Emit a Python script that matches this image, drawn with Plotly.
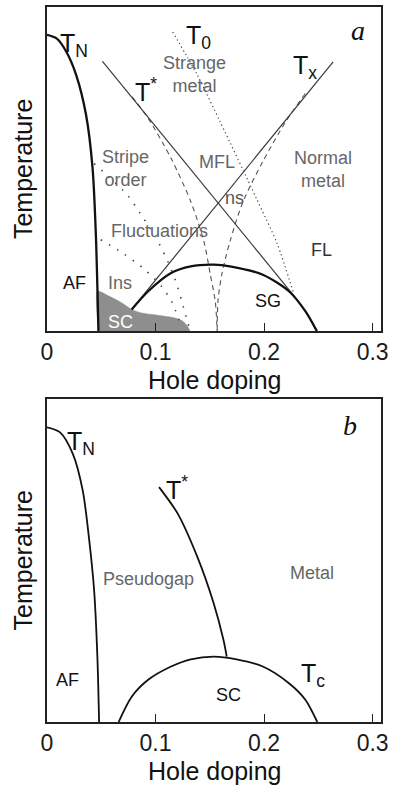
import plotly.graph_objects as go

# ---------------- Panel a data ----------------
tn_a_x = [0.0, 0.0088, 0.0178, 0.0269, 0.036, 0.042, 0.045, 0.0474]
tn_a_y = [0.914, 0.903, 0.862, 0.790, 0.667, 0.502, 0.298, 0.0]

tstar_a_x = [0.0511, 0.229]
tstar_a_y = [0.8325, 0.1026]

tx_a_x = [0.078, 0.2636]
tx_a_y = [0.0667, 0.831]

t0_a_x = [0.1158, 0.1385, 0.1595, 0.1928, 0.2120, 0.2275]
t0_a_y = [0.923, 0.790, 0.646, 0.410, 0.270, 0.113]

dashL_x = [0.0784, 0.0933, 0.1143, 0.1324, 0.1445, 0.1505, 0.155, 0.1568]
dashL_y = [0.723, 0.656, 0.533, 0.400, 0.277, 0.174, 0.092, 0.0]
dashR_x = [0.238, 0.2199, 0.1988, 0.1807, 0.1686, 0.161, 0.1575, 0.1568]
dashR_y = [0.733, 0.646, 0.523, 0.400, 0.277, 0.174, 0.092, 0.0]

sg_x = [0.078, 0.0932, 0.1143, 0.1324, 0.1535, 0.1686, 0.1988, 0.2229, 0.238, 0.2486]
sg_y = [0.0667, 0.123, 0.1795, 0.200, 0.205, 0.200, 0.174, 0.123, 0.0615, 0.0]

sc_a_x = [0.0474, 0.0465, 0.057, 0.069, 0.078, 0.0872, 0.1023, 0.1174, 0.1249, 0.1294, 0.1318]
sc_a_y = [0.0, 0.123, 0.108, 0.087, 0.067, 0.056, 0.049, 0.041, 0.031, 0.015, 0.0]

stripe1_x = [0.0434, 0.074, 0.0857, 0.100, 0.1113, 0.120, 0.126, 0.131]
stripe1_y = [0.517, 0.420, 0.364, 0.290, 0.215, 0.140, 0.070, 0.010]
stripe2_x = [0.0495, 0.070, 0.090, 0.105, 0.115, 0.122]
stripe2_y = [0.282, 0.240, 0.190, 0.140, 0.090, 0.030]

# ---------------- Panel b data ----------------
tn_b_x = [0.0, 0.0118, 0.0238, 0.0329, 0.0389, 0.0434, 0.0464, 0.048]
tn_b_y = [0.912, 0.897, 0.830, 0.717, 0.563, 0.408, 0.2025, 0.0]

tstar_b_x = [0.1032, 0.1204, 0.1385, 0.1536, 0.1626, 0.1656]
tstar_b_y = [0.727, 0.645, 0.511, 0.367, 0.254, 0.2025]

sc_b_x = [0.066, 0.0782, 0.0932, 0.1143, 0.1324, 0.1536, 0.1747, 0.1988, 0.2229, 0.238, 0.249]
sc_b_y = [0.0, 0.079, 0.1306, 0.1716, 0.194, 0.2025, 0.194, 0.1716, 0.120, 0.069, 0.0]

tick_vals = [0, 0.1, 0.2, 0.3]
tick_text = ["0", "0.1", "0.2", "0.3"]

FONT = "Liberation Sans, Arial, sans-serif"
GRAY = "#666666"

fig = go.Figure()


def line(x, y, xa, ya, color="#111", width=2.0, dash="solid", shape="spline"):
    fig.add_trace(go.Scatter(x=x, y=y, xaxis=xa, yaxis=ya, mode="lines",
                             line=dict(color=color, width=width, dash=dash, shape=shape,
                                       smoothing=0.8),
                             hoverinfo="skip", showlegend=False))


# panel a
fig.add_trace(go.Scatter(x=sc_a_x, y=sc_a_y, xaxis="x", yaxis="y", mode="lines",
                         fill="toself", fillcolor="#8e8e8e",
                         line=dict(color="#8e8e8e", width=0.5, shape="spline", smoothing=0.6),
                         hoverinfo="skip", showlegend=False))
line(stripe1_x, stripe1_y, "x", "y", color="#444", width=1.6, dash="1.5px,8px")
line(stripe2_x, stripe2_y, "x", "y", color="#444", width=1.6, dash="1.5px,8px")
line(t0_a_x, t0_a_y, "x", "y", color="#444", width=1.2, dash="1.2px,3px")
line(dashL_x, dashL_y, "x", "y", color="#555", width=1.1, dash="5px,4px")
line(dashR_x, dashR_y, "x", "y", color="#555", width=1.1, dash="5px,4px")
line(tstar_a_x, tstar_a_y, "x", "y", color="#3a3a3a", width=1.2, shape="linear")
line(tx_a_x, tx_a_y, "x", "y", color="#3a3a3a", width=1.2, shape="linear")
line(sg_x, sg_y, "x", "y", color="#111", width=2.3)
line(tn_a_x, tn_a_y, "x", "y", color="#111", width=2.3)

# panel b
line(tn_b_x, tn_b_y, "x2", "y2", color="#111", width=1.8)
line(tstar_b_x, tstar_b_y, "x2", "y2", color="#111", width=1.8)
line(sc_b_x, sc_b_y, "x2", "y2", color="#111", width=1.8)

xr = [0, 0.3077]
axis_common = dict(range=xr, showline=True, mirror=True, linecolor="#222", linewidth=1.5,
                   showgrid=False, zeroline=False, ticks="inside", ticklen=8, tickwidth=1.3,
                   tickcolor="#222", tickvals=tick_vals, ticktext=tick_text,
                   ticklabelstandoff=0, ticklabeloverflow="allow",
                   tickfont=dict(family=FONT, size=23, color="#1a1a1a"), fixedrange=True)
yaxis_common = dict(range=[0, 1], showline=True, mirror=True, linecolor="#222", linewidth=1.5,
                    showgrid=False, zeroline=False, ticks="", showticklabels=False,
                    fixedrange=True)

fig.update_layout(
    width=393, height=787,
    margin=dict(l=47, r=6, t=5, b=65),
    paper_bgcolor="white", plot_bgcolor="white",
    xaxis=dict(domain=[0, 1], anchor="y", **axis_common),
    yaxis=dict(domain=[0.5467, 1.0], anchor="x", **yaxis_common),
    xaxis2=dict(domain=[0, 1], anchor="y2", **axis_common),
    yaxis2=dict(domain=[0.0, 0.4519], anchor="x2", **yaxis_common),
)

ann = []


def label(text, x, y, xa, ya, size=18, color=GRAY, **kw):
    ann.append(dict(text=text, x=x, y=y, xref=xa, yref=ya, showarrow=False,
                    font=dict(family=FONT, size=size, color=color),
                    xanchor="center", yanchor="middle", **kw))


# panel a labels
label("T<sub>N</sub>", 0.0253, 0.883, "x", "y", size=25, color="#111")
label("T<sub>0</sub>", 0.140, 0.908, "x", "y", size=25, color="#111")
label("T<sup>*</sup>", 0.0914, 0.745, "x", "y", size=25, color="#111")
label("T<sub>x</sub>", 0.238, 0.815, "x", "y", size=25, color="#111")
label("Strange<br>metal", 0.1357, 0.792, "x", "y")
label("Stripe<br>order", 0.0724, 0.5015, "x", "y")
label("MFL", 0.1566, 0.523, "x", "y")
label("Normal<br>metal", 0.2546, 0.4975, "x", "y")
label("ns", 0.1731, 0.41, "x", "y", color="#555")
label("Fluctuations", 0.1038, 0.3077, "x", "y")
label("FL", 0.2531, 0.251, "x", "y", color="#333")
label("AF", 0.0253, 0.1487, "x", "y", color="#111")
label("Ins", 0.0676, 0.1487, "x", "y")
label("SG", 0.2033, 0.0923, "x", "y", color="#111")
label("SC", 0.0676, 0.0287, "x", "y", color="white")
ann.append(dict(text="<i>a</i>", x=0.2862, y=0.928, xref="x", yref="y", showarrow=False,
                font=dict(family="Liberation Serif, Times New Roman, serif", size=28, color="#111"),
                xanchor="center", yanchor="middle"))

# panel b labels
label("T<sub>N</sub>", 0.0317, 0.865, "x2", "y2", size=25, color="#111")
label("T<sup>*</sup>", 0.120, 0.723, "x2", "y2", size=25, color="#111")
label("Pseudogap", 0.0932, 0.444, "x2", "y2")
label("Metal", 0.244, 0.46, "x2", "y2")
label("AF", 0.0193, 0.1306, "x2", "y2", color="#111")
label("SC", 0.167, 0.084, "x2", "y2", color="#111")
label("T<sub>c</sub>", 0.245, 0.146, "x2", "y2", size=25, color="#111")
ann.append(dict(text="<i>b</i>", x=0.2787, y=0.918, xref="x2", yref="y2", showarrow=False,
                font=dict(family="Liberation Serif, Times New Roman, serif", size=28, color="#111"),
                xanchor="center", yanchor="middle"))

# axis titles
for ya, xa in (("y", "x"), ("y2", "x2")):
    ann.append(dict(text="Temperature", x=0, y=0.5, xref=xa + " domain", yref=ya + " domain",
                    showarrow=False, textangle=-90, xshift=-24,
                    font=dict(family=FONT, size=25, color="#111"),
                    xanchor="center", yanchor="middle"))
    ann.append(dict(text="Hole doping", x=0.5, y=0, xref=xa + " domain", yref=ya + " domain",
                    showarrow=False, yshift=-49,
                    font=dict(family=FONT, size=25, color="#111"),
                    xanchor="center", yanchor="middle"))

fig.update_layout(annotations=ann)
fig.write_html("out.html", post_script="document.body.style.margin='0px';",
               config={"displayModeBar": False})
